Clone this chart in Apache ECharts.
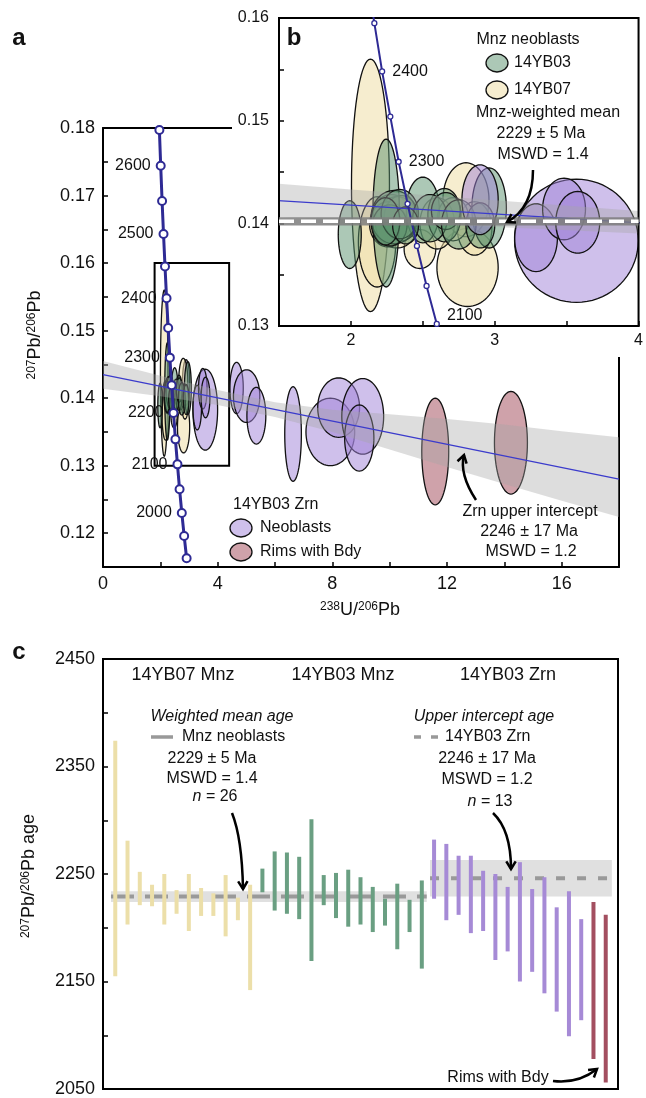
<!DOCTYPE html>
<html>
<head>
<meta charset="utf-8">
<script src="https://cdn.jsdelivr.net/npm/echarts/dist/echarts.min.js"></script>
<style>
html, body { margin: 0; padding: 0; background: #fff; }
#container { width: 646px; height: 1098px; }
</style>
</head>
<body>
<div id="container"></div>
<script>
var FONT = '"Liberation Sans", Arial, Helvetica, sans-serif';

// concordia (age in Ma, 238U/206Pb, 207Pb/206Pb)
var concAge = [2650, 2600, 2550, 2500, 2450, 2400, 2350, 2300, 2250, 2200, 2150, 2100, 2050, 2000, 1950, 1900];
var concX = [1.967, 2.013, 2.061, 2.111, 2.163, 2.217, 2.274, 2.332, 2.394, 2.459, 2.526, 2.597, 2.671, 2.749, 2.831, 2.917];
var concY = [0.1797, 0.1744, 0.1692, 0.1643, 0.1595, 0.1548, 0.1504, 0.1460, 0.1419, 0.1378, 0.1339, 0.1302, 0.1265, 0.1230, 0.1196, 0.1163];

// zircon discordia and its envelope
var discX = [0, 18];
var discY = [0.1435, 0.1280];
var bandX = [0, 2, 4, 6, 8, 10, 12, 14, 16, 18];
var bandHi = [0.1455, 0.1433, 0.1412, 0.1394, 0.1383, 0.1376, 0.1369, 0.1361, 0.1351, 0.1342];
var bandLo = [0.1414, 0.1403, 0.1390, 0.1372, 0.1350, 0.1324, 0.1298, 0.1273, 0.1248, 0.1224];

// ellipses: [x, y, half-width x, half-width y]
var zrnNeoblasts = [
  [3.568, 0.1383, 0.430, 0.0060],
  [3.287, 0.1386, 0.149, 0.0033],
  [3.482, 0.1414, 0.149, 0.0030],
  [3.577, 0.1401, 0.153, 0.0030],
  [2.898, 0.1423, 0.126, 0.0034],
  [4.66, 0.1415, 0.233, 0.0038],
  [5.01, 0.1403, 0.46, 0.0039],
  [5.35, 0.1374, 0.33, 0.0042],
  [6.63, 0.1347, 0.29, 0.0070],
  [7.93, 0.1350, 0.85, 0.0050],
  [8.22, 0.1386, 0.73, 0.0044],
  [9.06, 0.1373, 0.73, 0.0056],
  [8.94, 0.1341, 0.51, 0.0049]
];
var zrnRims = [
  [11.59, 0.1321, 0.47, 0.0079],
  [14.23, 0.1334, 0.575, 0.0076]
];
var mnz07 = [
  [2.136, 0.1437, 0.132, 0.0123],
  [2.182, 0.1382, 0.130, 0.0044],
  [2.811, 0.1357, 0.213, 0.0038],
  [2.800, 0.1423, 0.160, 0.0036],
  [2.480, 0.1375, 0.110, 0.0019],
  [2.860, 0.1395, 0.120, 0.0026],
  [2.280, 0.1404, 0.140, 0.0024],
  [2.320, 0.1401, 0.150, 0.0025],
  [2.260, 0.1399, 0.130, 0.0022],
  [2.350, 0.1405, 0.120, 0.0022],
  [2.600, 0.1400, 0.120, 0.0025],
  [2.710, 0.1404, 0.110, 0.0021]
];
var mnz03 = [
  [1.992, 0.1389, 0.080, 0.0033],
  [2.245, 0.1410, 0.092, 0.0072],
  [2.500, 0.1413, 0.115, 0.0032],
  [2.961, 0.1415, 0.120, 0.0039],
  [2.650, 0.1408, 0.115, 0.0026],
  [2.300, 0.1406, 0.160, 0.0026],
  [2.270, 0.1398, 0.120, 0.0020],
  [2.340, 0.1409, 0.130, 0.0024],
  [2.240, 0.1402, 0.100, 0.0023],
  [2.550, 0.1405, 0.120, 0.0023],
  [2.660, 0.1412, 0.100, 0.0018],
  [2.750, 0.1399, 0.120, 0.0024],
  [2.900, 0.1398, 0.100, 0.0022],
  [2.380, 0.1398, 0.090, 0.0018]
];
var mnzRatio = 0.1402, mnzRatioErr = 0.0004;

// panel c: 207Pb/206Pb ages, low / high ends of each bar
var ageLo07 = [2155, 2203, 2221, 2220, 2203, 2213, 2197, 2211, 2211, 2192, 2207, 2142];
var ageHi07 = [2374, 2281, 2252, 2240, 2250, 2235, 2250, 2237, 2232, 2249, 2228, 2240];
var ageLo03 = [2233, 2216, 2213, 2208, 2169, 2221, 2209, 2201, 2203, 2196, 2202, 2180, 2196, 2162];
var ageHi03 = [2255, 2271, 2270, 2266, 2301, 2249, 2251, 2254, 2247, 2238, 2227, 2241, 2226, 2244];
var ageLoZrn = [2227, 2207, 2212, 2195, 2197, 2170, 2178, 2150, 2159, 2139, 2122, 2099, 2114];
var ageHiZrn = [2282, 2278, 2267, 2267, 2253, 2250, 2238, 2261, 2236, 2247, 2219, 2234, 2208];
var ageLoRim = [2078, 2056];
var ageHiRim = [2224, 2212];
var mnzAge = 2229, mnzAgeErr = 5;
var zrnAge = 2246, zrnAgeErr = 17;

var C_NEO = 'rgba(160,130,215,0.5)';
var C_RIM = 'rgba(160,70,85,0.5)';
var C_03 = 'rgba(90,145,110,0.5)';
var C_07 = 'rgba(238,222,168,0.55)';
var C_CONC = '#2e2a94';

var dom = document.getElementById('container');
var myChart = echarts.init(dom, null, { renderer: 'canvas' });

function ellSeries(data, fill, ax, z) {
  return {
    type: 'custom', xAxisIndex: ax, yAxisIndex: ax, z: z, silent: true, clip: true,
    data: data,
    renderItem: function (params, api) {
      var cx = api.value(0), cy = api.value(1), sx = api.value(2), sy = api.value(3);
      var pts = [];
      for (var k = 0; k < 72; k++) {
        var a = k / 72 * Math.PI * 2;
        pts.push(api.coord([cx + sx * Math.cos(a), cy + sy * Math.sin(a)]));
      }
      return { type: 'polygon', shape: { points: pts }, style: { fill: fill, stroke: '#111', lineWidth: 1.3 } };
    }
  };
}

function bandSeries(ax, z) {
  return {
    type: 'custom', xAxisIndex: ax, yAxisIndex: ax, z: z, silent: true, clip: true,
    data: [[bandX[0], bandLo[0], bandHi[0]]],
    renderItem: function (params, api) {
      var pts = [];
      for (var i = 0; i < bandX.length; i++) pts.push(api.coord([bandX[i], bandHi[i]]));
      for (var j = bandX.length - 1; j >= 0; j--) pts.push(api.coord([bandX[j], bandLo[j]]));
      return { type: 'polygon', shape: { points: pts }, style: { fill: 'rgba(165,165,165,0.38)' } };
    }
  };
}

function concSeries(ax, z, big, labelAges, pos) {
  return {
    type: 'line', xAxisIndex: ax, yAxisIndex: ax, z: z, silent: true,
    symbol: 'circle', symbolSize: big ? 8 : 5,
    itemStyle: { color: '#fff', borderColor: C_CONC, borderWidth: big ? 2 : 1.3 },
    lineStyle: { color: C_CONC, width: big ? 3 : 2 },
    data: concX.map(function (x, i) {
      var show = labelAges.indexOf(concAge[i]) >= 0;
      return {
        value: [x, concY[i]],
        label: {
          show: show, position: pos, distance: big ? 5 : 7,
          offset: (!big && concAge[i] === 2100) ? [0, -8] : [0, 0],
          formatter: String(concAge[i]), fontSize: 16, fontFamily: FONT, color: '#111'
        }
      };
    })
  };
}

function barSeries(lo, hi, start, color) {
  return {
    type: 'custom', xAxisIndex: 3, yAxisIndex: 3, z: 4, silent: true,
    data: lo.map(function (v, i) { return [start + i, v, hi[i]]; }),
    renderItem: function (params, api) {
      var p1 = api.coord([api.value(0), api.value(2)]);
      var p2 = api.coord([api.value(0), api.value(1)]);
      return { type: 'rect', shape: { x: p1[0] - 2, y: p1[1], width: 4, height: p2[1] - p1[1] }, style: { fill: color } };
    }
  };
}

function txt(x, y, text, size, align, extra) {
  var st = { text: text, fontFamily: FONT, fontSize: size || 16, fill: '#111',
    textAlign: align || 'center', textVerticalAlign: 'middle',
    rich: { s: { fontSize: 12, fontFamily: FONT, verticalAlign: 'top', lineHeight: 12 },
            i: { fontStyle: 'italic', fontSize: size || 16, fontFamily: FONT } } };
  var el = { type: 'text', x: x, y: y, z: 20, style: st };
  if (extra) {
    for (var k in extra) {
      if (k === 'style') { for (var s in extra.style) st[s] = extra.style[s]; }
      else el[k] = extra[k];
    }
  }
  return el;
}

function arrow(x1, y1, cx, cy, x2, y2) {
  var a = Math.atan2(y2 - cy, x2 - cx), L = 9;
  return [
    { type: 'bezierCurve', z: 20, shape: { x1: x1, y1: y1, cpx1: cx, cpy1: cy, x2: x2, y2: y2 },
      style: { stroke: '#000', lineWidth: 2.5, fill: null } },
    { type: 'polyline', z: 20, shape: { points: [
        [x2 - L * Math.cos(a - 0.55), y2 - L * Math.sin(a - 0.55)], [x2, y2],
        [x2 - L * Math.cos(a + 0.55), y2 - L * Math.sin(a + 0.55)]] },
      style: { stroke: '#000', lineWidth: 2.5, fill: null } }
  ];
}

function ellIcon(x, y, fill) {
  return { type: 'ellipse', z: 20, shape: { cx: x, cy: y, rx: 11, ry: 9 }, style: { fill: fill, stroke: '#111', lineWidth: 1.3 } };
}

var axisLineBlack = { onZero: false, lineStyle: { color: '#000', width: 2 } };
var tickIn = { inside: true, length: 5, lineStyle: { color: '#000', width: 1.5 } };
function lbl(size, margin, fmt) {
  return { fontSize: size, fontFamily: FONT, color: '#111', margin: margin, formatter: fmt };
}
function fmt2(v) { var r = Math.round(v * 1000); return r % 10 === 0 ? (r / 1000).toFixed(2) : ''; }
function fmtInt(v) { return Math.abs(v - Math.round(v)) < 1e-9 ? String(Math.round(v)) : ''; }

var nMnz07 = ageLo07.length, nMnz03 = ageLo03.length, nZrn = ageLoZrn.length;
var graphics = [
  { type: 'rect', z: 10, shape: { x: 232, y: 0, width: 414, height: 357 }, style: { fill: '#fff' } },
  txt(19, 38, 'a', 24, 'center', { style: { fontWeight: 'bold' } }),
  txt(294, 38, 'b', 24, 'center', { style: { fontWeight: 'bold' } }),
  txt(19, 652, 'c', 24, 'center', { style: { fontWeight: 'bold' } }),
  // axis names
  txt(35, 335, '{s|207}Pb/{s|206}Pb', 18, 'center', { rotation: Math.PI / 2 }),
  txt(360, 610, '{s|238}U/{s|206}Pb', 18, 'center'),
  txt(29, 876, '{s|207}Pb/{s|206}Pb age', 18, 'center', { rotation: Math.PI / 2 }),
  // panel a legend & annotation
  txt(233, 505, '14YB03 Zrn', 16, 'left'),
  ellIcon(241, 528, C_NEO), txt(260, 528, 'Neoblasts', 16, 'left'),
  ellIcon(241, 552, C_RIM), txt(260, 552, 'Rims with Bdy', 16, 'left'),
  txt(530, 512, 'Zrn upper intercept', 16),
  txt(529, 532, '2246 \u00b1 17 Ma', 16),
  txt(531, 552, 'MSWD = 1.2', 16),
  // inset legend
  txt(528, 40, 'Mnz neoblasts', 16),
  ellIcon(497, 63, C_03), txt(514, 63, '14YB03', 16, 'left'),
  ellIcon(497, 90, C_07), txt(514, 90, '14YB07', 16, 'left'),
  txt(548, 113, 'Mnz-weighted mean', 16),
  txt(541, 134, '2229 \u00b1 5 Ma', 16),
  txt(543, 155, 'MSWD = 1.4', 16),
  // panel c headers & annotations
  txt(183, 675, '14YB07 Mnz', 18),
  txt(343, 675, '14YB03 Mnz', 18),
  txt(508, 675, '14YB03 Zrn', 18),
  txt(222, 717, 'Weighted mean age', 16, 'center', { style: { fontStyle: 'italic' } }),
  { type: 'line', z: 20, shape: { x1: 151, y1: 737, x2: 173, y2: 737 }, style: { stroke: '#999', lineWidth: 3.5 } },
  txt(182, 737, 'Mnz neoblasts', 16, 'left'),
  txt(212, 759, '2229 \u00b1 5 Ma', 16),
  txt(212, 779, 'MSWD = 1.4', 16),
  txt(215, 797, '{i|n} = 26', 16),
  txt(484, 717, 'Upper intercept age', 16, 'center', { style: { fontStyle: 'italic' } }),
  { type: 'line', z: 20, shape: { x1: 414, y1: 737, x2: 438, y2: 737 }, style: { stroke: '#999', lineWidth: 3.5, lineDash: [7, 10] } },
  txt(445, 737, '14YB03 Zrn', 16, 'left'),
  txt(487, 759, '2246 \u00b1 17 Ma', 16),
  txt(487, 780, 'MSWD = 1.2', 16),
  txt(490, 802, '{i|n} = 13', 16),
  txt(498, 1078, 'Rims with Bdy', 16)
];
graphics = graphics
  .concat(arrow(476, 500, 459, 474, 464, 455))
  .concat(arrow(533, 170, 533, 208, 507, 222))
  .concat(arrow(232, 813, 242, 838, 243, 889))
  .concat(arrow(493, 813, 511, 830, 511, 869))
  .concat(arrow(553, 1081, 578, 1084, 597, 1069));

var option = {
  animation: false,
  grid: [
    { left: 103, top: 128, width: 516, height: 439, show: false },
    { left: 279, top: 18, width: 363, height: 308, show: true, z: 12, borderColor: '#000', borderWidth: 2, backgroundColor: 'transparent' },
    { left: 103, top: 659, width: 515, height: 433, show: true, borderColor: '#000', borderWidth: 2 }
  ],
  xAxis: [
    { gridIndex: 0, type: 'value', min: 0, max: 18, interval: 2, position: 'bottom',
      axisLine: axisLineBlack, axisTick: tickIn, splitLine: { show: false },
      axisLabel: lbl(18, 8, function (v) { return v % 4 === 0 ? String(v) : ''; }) },
    { gridIndex: 0, type: 'value', min: 0, max: 18, position: 'top',
      axisLine: axisLineBlack, axisTick: { show: false }, axisLabel: { show: false }, splitLine: { show: false } },
    { gridIndex: 1, type: 'value', min: 1.5, max: 4, interval: 0.5, z: 12,
      axisLine: axisLineBlack, axisTick: tickIn, splitLine: { show: false },
      axisLabel: lbl(16, 7, fmtInt) },
    { gridIndex: 2, type: 'value', min: -1, max: 41, show: false }
  ],
  yAxis: [
    { gridIndex: 0, type: 'value', min: 0.115, max: 0.18, interval: 0.005, position: 'left',
      axisLine: axisLineBlack, axisTick: tickIn, splitLine: { show: false },
      axisLabel: lbl(18, 8, fmt2) },
    { gridIndex: 0, type: 'value', min: 0.115, max: 0.18, position: 'right',
      axisLine: axisLineBlack, axisTick: { show: false }, axisLabel: { show: false }, splitLine: { show: false } },
    { gridIndex: 1, type: 'value', min: 0.13, max: 0.16, interval: 0.005, z: 12,
      axisLine: axisLineBlack, axisTick: tickIn, splitLine: { show: false },
      axisLabel: lbl(16, 10, fmt2) },
    { gridIndex: 2, type: 'value', min: 2050, max: 2450, interval: 50,
      axisLine: axisLineBlack, axisTick: tickIn, splitLine: { show: false },
      axisLabel: lbl(18, 8, function (v) { return (v - 2050) % 100 === 0 ? String(v) : ''; }) }
  ],
  series: [
    // panel a
    ellSeries(zrnNeoblasts, C_NEO, 0, 3),
    ellSeries(zrnRims, C_RIM, 0, 3),
    ellSeries(mnz07, C_07, 0, 3),
    ellSeries(mnz03, C_03, 0, 3),
    bandSeries(0, 4),
    { type: 'line', xAxisIndex: 0, yAxisIndex: 0, z: 4, silent: true, symbol: 'none',
      lineStyle: { color: '#3b3bcc', width: 1.3 },
      data: discX.map(function (x, i) { return [x, discY[i]]; }),
      markArea: { silent: true, itemStyle: { color: 'transparent', borderColor: '#000', borderWidth: 2 },
        data: [[{ coord: [1.8, 0.16] }, { coord: [4.4, 0.13] }]] } },
    concSeries(0, 5, true, [2600, 2500, 2400, 2300, 2200, 2100, 2000], 'left'),
    // inset b
    ellSeries(mnz07, C_07, 2, 11),
    ellSeries(mnz03, C_03, 2, 11),
    ellSeries(zrnNeoblasts.filter(function (d) { return d[0] - d[2] < 4; }), C_NEO, 2, 11),
    bandSeries(2, 11),
    { type: 'line', xAxisIndex: 2, yAxisIndex: 2, z: 11, silent: true, symbol: 'none',
      lineStyle: { color: '#3b3bcc', width: 1.3 },
      data: discX.map(function (x, i) { return [x, discY[i]]; }) },
    { type: 'custom', xAxisIndex: 2, yAxisIndex: 2, z: 14, silent: true, clip: true,
      data: [[1.5, mnzRatio - mnzRatioErr, mnzRatio + mnzRatioErr]],
      renderItem: function (params, api) {
        var lo = api.coord([1.5, api.value(1)]), hi = api.coord([4, api.value(2)]);
        return { type: 'rect', shape: { x: lo[0], y: hi[1], width: hi[0] - lo[0], height: lo[1] - hi[1] },
          style: { fill: 'rgba(125,125,125,0.85)' } };
      } },
    { type: 'line', xAxisIndex: 2, yAxisIndex: 2, z: 15, silent: true, symbol: 'none',
      lineStyle: { color: '#fff', width: 3.5, type: [15, 7] },
      data: [[1.5, mnzRatio], [4, mnzRatio]] },
    concSeries(2, 13, false, [2400, 2300, 2100], 'right'),
    // panel c
    { type: 'line', xAxisIndex: 3, yAxisIndex: 3, z: 3, silent: true, symbol: 'none',
      lineStyle: { color: '#999', width: 4, type: [23, 11] },
      data: [[-0.35, mnzAge], [25.4, mnzAge]],
      markArea: { silent: true, itemStyle: { color: '#e0e0e0' },
        data: [[{ coord: [-0.35, mnzAge - mnzAgeErr] }, { coord: [25.4, mnzAge + mnzAgeErr] }]] } },
    { type: 'line', xAxisIndex: 3, yAxisIndex: 3, z: 3, silent: true, symbol: 'none',
      lineStyle: { color: '#999', width: 4, type: [9, 12] },
      data: [[25.67, zrnAge], [40.5, zrnAge]],
      markArea: { silent: true, itemStyle: { color: '#e0e0e0' },
        data: [[{ coord: [25.67, zrnAge - zrnAgeErr] }, { coord: [40.5, zrnAge + zrnAgeErr] }]] } },
    barSeries(ageLo07, ageHi07, 0, '#ecdfa9'),
    barSeries(ageLo03, ageHi03, nMnz07, '#6a9f82'),
    barSeries(ageLoZrn, ageHiZrn, nMnz07 + nMnz03, '#a68ad6'),
    barSeries(ageLoRim, ageHiRim, nMnz07 + nMnz03 + nZrn, '#a34f60')
  ],
  graphic: { elements: graphics }
};

if (option && typeof option === 'object') {
  myChart.setOption(option);
}

window.addEventListener('resize', myChart.resize);
</script>
</body>
</html>
